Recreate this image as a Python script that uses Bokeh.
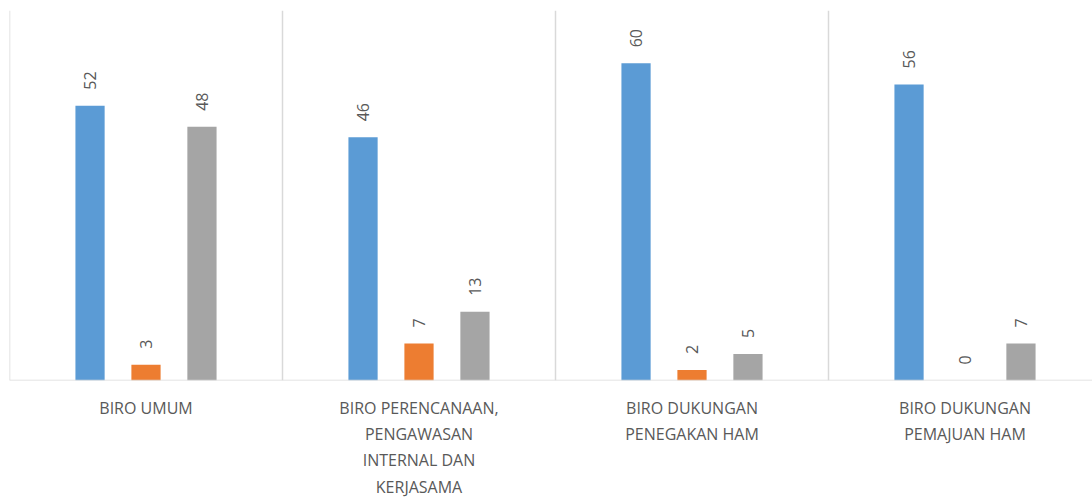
from math import pi
from bokeh.plotting import figure
from bokeh.models import ColumnDataSource, Span, Range1d, LinearAxis, FixedTicker
from bokeh.transform import dodge
from bokeh.core.properties import value
from bokeh.embed import file_html
from bokeh.resources import INLINE

categories = [
    "BIRO UMUM",
    "BIRO PERENCANAAN,\nPENGAWASAN\nINTERNAL DAN\nKERJASAMA",
    "BIRO DUKUNGAN\nPENEGAKAN HAM",
    "BIRO DUKUNGAN\nPEMAJUAN HAM",
]
series_a = [52, 46, 60, 56]   # blue
series_b = [3, 7, 2, 0]       # orange
series_c = [48, 13, 5, 7]     # gray

colors = ["#5B9BD5", "#ED7D31", "#A5A5A5"]
offsets = [-0.205, 0.0, 0.205]
label_color = "#595959"
grid_color = "#D9D9D9"

p = figure(frame_width=1083, frame_height=370, output_backend="svg",
           toolbar_location=None, x_axis_location=None, y_axis_location=None,
           min_border_left=9, min_border_right=0, min_border_top=10,
           min_border_bottom=118)
p.x_range = Range1d(0, 1083 / 273)
p.y_range = Range1d(0, 70)
p.outline_line_color = None
p.xgrid.visible = False
p.ygrid.visible = False

for i in range(4):
    p.add_layout(Span(location=i, dimension="height", line_color=grid_color, line_width=1.5))
p.add_layout(Span(location=0, dimension="width", line_color=grid_color, line_width=1.5))

xs = [i + 0.5 for i in range(len(categories))]
for vals, col, off in zip([series_a, series_b, series_c], colors, offsets):
    src = ColumnDataSource(dict(x=xs, top=vals, lbl=[str(v) for v in vals]))
    p.vbar(x=dodge("x", off), top="top", width=0.107, source=src,
           fill_color=col, line_color=None)
    p.text(x=dodge("x", off), y="top", text="lbl", source=src, angle=pi / 2,
           text_align="left", text_baseline="middle", y_offset=-16,
           text_font=value("Open Sans"), text_font_size="16px", text_color=label_color)

ax = LinearAxis(ticker=FixedTicker(ticks=xs),
                major_label_overrides={x: c for x, c in zip(xs, categories)},
                axis_line_color=None, major_tick_line_color=None,
                minor_tick_line_color=None, major_label_standoff=10,
                major_label_text_font="Open Sans",
                major_label_text_font_size="16px",
                major_label_text_color=label_color)
p.add_layout(ax, "below")

open("out.html", "w").write(file_html(p, INLINE))
